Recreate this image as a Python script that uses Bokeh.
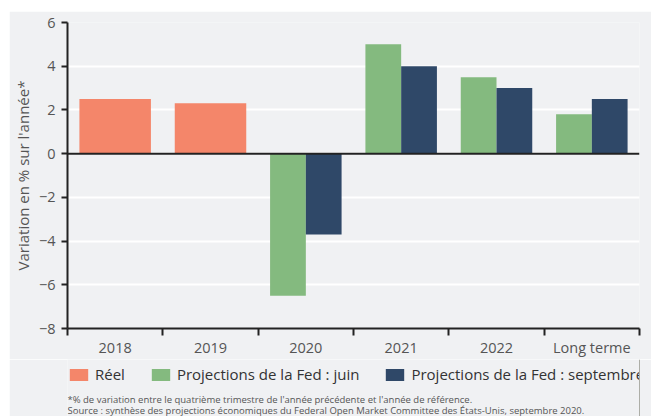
from bokeh.plotting import figure
from bokeh.models import (FixedTicker, Span, Legend, LegendItem, Label, ColumnDataSource, Range1d)
from bokeh.layouts import column
from bokeh.embed import file_html
from bokeh.resources import INLINE

categories = ["2018", "2019", "2020", "2021", "2022", "Long terme"]
reel_cats = ["2018", "2019"]
reel_values = [2.5, 2.3]
proj_cats = ["2020", "2021", "2022", "Long terme"]
juin_values = [-6.5, 5.0, 3.5, 1.8]
sept_values = [-3.7, 4.0, 3.0, 2.5]
y_ticks = [-8, -6, -4, -2, 0, 2, 4, 6]
series_names = ["Réel", "Projections de la Fed : juin", "Projections de la Fed : septembre"]
series_colors = ["#f4866a", "#84ba7f", "#2f4868"]
notes = ["*% de variation entre le quatrième trimestre de l'année précédente et l'année de référence.",
         "Source : synthèse des projections économiques du Federal Open Market Committee des États-Unis, septembre 2020."]

FONT = "Open Sans"
BG = "#f0f1f3"
W = 642

idx = {c: i + 0.5 for i, c in enumerate(categories)}

p = figure(width=W, height=348, output_backend="svg", toolbar_location=None,
           x_range=Range1d(0, len(categories)), y_range=Range1d(-8, 6),
           background_fill_color=BG, border_fill_color=BG,
           min_border_left=53, min_border_right=12, min_border_top=11, min_border_bottom=30)
p.outline_line_color = None

src_r = ColumnDataSource(dict(x=[idx[c] for c in reel_cats], top=reel_values))
src_j = ColumnDataSource(dict(x=[idx[c] - 0.1875 for c in proj_cats], top=juin_values))
src_s = ColumnDataSource(dict(x=[idx[c] + 0.1875 for c in proj_cats], top=sept_values))

p.vbar(x="x", top="top", bottom=0, width=0.75, source=src_r, fill_color=series_colors[0], line_color=None)
p.vbar(x="x", top="top", bottom=0, width=0.375, source=src_j, fill_color=series_colors[1], line_color=None)
p.vbar(x="x", top="top", bottom=0, width=0.375, source=src_s, fill_color=series_colors[2], line_color=None)

p.add_layout(Span(location=0, dimension="width", line_color="#222222", line_width=2))

# axes
p.xaxis.ticker = FixedTicker(ticks=[i + 0.5 for i in range(len(categories))],
                             minor_ticks=list(range(len(categories) + 1)))
p.xaxis.major_label_overrides = {i + 0.5: c for i, c in enumerate(categories)}
p.xaxis.major_tick_out = 0
p.xaxis.major_tick_in = 0
p.xaxis.minor_tick_out = 7
p.xaxis.minor_tick_in = 0
p.xaxis.minor_tick_line_color = "#222222"
p.xaxis.minor_tick_line_width = 2
p.xaxis.axis_line_color = "#222222"
p.xaxis.axis_line_width = 2
p.xaxis.major_label_text_font = FONT
p.xaxis.major_label_text_font_size = "14.5px"
p.xaxis.major_label_text_color = "#555555"
p.xaxis.major_label_standoff = 2

p.yaxis.ticker = FixedTicker(ticks=y_ticks)
p.yaxis.minor_tick_line_color = None
p.yaxis.major_tick_out = 6
p.yaxis.major_tick_in = 0
p.yaxis.major_tick_line_color = "#222222"
p.yaxis.major_tick_line_width = 2
p.yaxis.axis_line_color = "#222222"
p.yaxis.axis_line_width = 2
p.yaxis.major_label_text_font = FONT
p.yaxis.major_label_text_font_size = "14.5px"
p.yaxis.major_label_text_color = "#555555"
p.yaxis.major_label_standoff = 6
p.yaxis.axis_label = "Variation en % sur l'année*"
p.yaxis.axis_label_text_font = FONT
p.yaxis.axis_label_text_font_size = "15px"
p.yaxis.axis_label_text_font_style = "normal"
p.yaxis.axis_label_text_color = "#555555"
p.yaxis.axis_label_standoff = 3

p.xgrid.grid_line_color = None
p.ygrid.grid_line_color = "white"
p.ygrid.grid_line_width = 2

# legend + notes panel (no axes)
q = figure(width=W, height=57, output_backend="svg", toolbar_location=None,
           x_range=Range1d(0, 1), y_range=Range1d(0, 1),
           x_axis_location=None, y_axis_location=None,
           background_fill_color=BG, border_fill_color=BG,
           min_border_left=0, min_border_right=0, min_border_top=0, min_border_bottom=0)
q.outline_line_color = None
q.grid.visible = False

items = []
for name, col in zip(series_names, series_colors):
    # legend handle only: placed outside the visible range of this panel
    rr = q.vbar(x=[5], top=[1], width=0.1, fill_color=col, line_color=None)
    items.append(LegendItem(label=name, renderers=[rr]))

legend = Legend(items=items, orientation="horizontal", location=(0, 32),
                background_fill_alpha=0, border_line_color=None,
                label_text_font=FONT, label_text_font_size="15px", label_text_color="#333333",
                glyph_width=23, glyph_height=15, spacing=24, padding=2, margin=0,
                label_standoff=5)
q.add_layout(legend, "center")

for i, t in enumerate(notes):
    q.add_layout(Label(x=0, y=17 - 11 * i, x_units="screen", y_units="screen", text=t,
                       text_font=FONT, text_font_size="9.5px", text_color="#555555",
                       text_baseline="middle", text_align="left"))

layout = column(p, q, spacing=0)
layout.margin = (11, 0, 0, 9)
open("out.html", "w").write(file_html(layout, INLINE))
